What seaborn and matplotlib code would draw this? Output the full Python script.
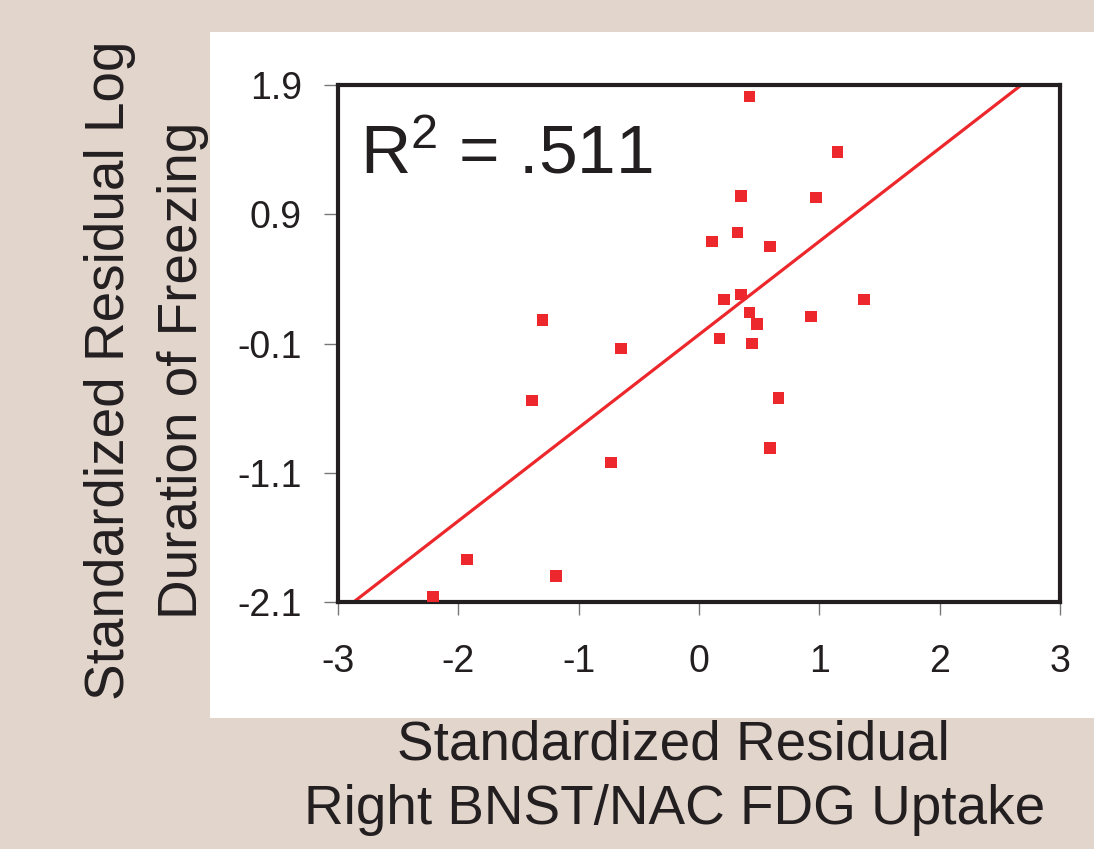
import numpy as np
import pandas as pd
import matplotlib
matplotlib.use("Agg")
import matplotlib.pyplot as plt
import seaborn as sns
from matplotlib.patches import Rectangle

# values
fdg_uptake = [0.42, 1.15, 0.35, 0.97, 0.32, 0.11, 0.59, 0.21, 0.35, 1.37, 0.42, 0.48,
              0.93, -1.30, 0.17, 0.44, -0.65, -1.39, 0.66, 0.59, -0.73, -1.93, -1.19, -2.21]
log_freezing = [1.81, 1.38, 1.04, 1.03, 0.76, 0.69, 0.65, 0.24, 0.28, 0.24, 0.14, 0.05,
                0.11, 0.08, -0.06, -0.10, -0.14, -0.54, -0.52, -0.91, -1.02, -1.77, -1.90, -2.06]
fit_slope = 0.721
fit_intercept = -0.031
r_squared = ".511"

x_ticks = [-3, -2, -1, 0, 1, 2, 3]
x_tick_labels = ["-3", "-2", "-1", "0", "1", "2", "3"]
y_ticks = [1.9, 0.9, -0.1, -1.1, -2.1]
y_tick_labels = ["1.9", "0.9", "-0.1", "-1.1", "-2.1"]

df = pd.DataFrame({"fdg": fdg_uptake, "freezing": log_freezing})

sns.set_style("ticks")
plt.rcParams["font.family"] = ["Liberation Sans", "DejaVu Sans"]
plt.rcParams["mathtext.fontset"] = "custom"
plt.rcParams["mathtext.rm"] = "Liberation Sans"
plt.rcParams["mathtext.it"] = "Liberation Sans"

red = "#ec282d"
fig = plt.figure(figsize=(10.94, 8.49), dpi=100, facecolor="#e2d5cc")

# white panel behind the plot
fig.patches.append(Rectangle((210 / 1094, 1 - 718 / 849), 1 - 210 / 1094, (718 - 32) / 849,
                             transform=fig.transFigure, facecolor="white", edgecolor="none", zorder=-5))

ax = fig.add_axes([338 / 1094, 1 - 602 / 849, (1060 - 338) / 1094, (602 - 85) / 849])
ax.set_facecolor("white")

sns.scatterplot(data=df, x="fdg", y="freezing", marker="s", s=70, color=red,
                edgecolor="none", linewidth=0, ax=ax, zorder=3)
ax.axline((0, fit_intercept), slope=fit_slope, color=red, linewidth=2.3, zorder=2)

ax.set_xlim(-3, 3)
ax.set_ylim(-2.1, 1.9)
ax.set_xticks(x_ticks)
ax.set_xticklabels(x_tick_labels)
ax.set_yticks(y_ticks)
ax.set_yticklabels(y_tick_labels)
ax.tick_params(axis="x", labelsize=27, length=9, width=1, color="#777777", pad=21, labelcolor="#231f20")
ax.tick_params(axis="y", labelsize=27, length=10, width=1, color="#777777", pad=16, labelcolor="#231f20")
for side in ["left", "right", "top", "bottom"]:
    ax.spines[side].set_visible(True)
    ax.spines[side].set_linewidth(3)
    ax.spines[side].set_color("#231f20")
ax.set_xlabel("")
ax.set_ylabel("")

ax.text(0.031, 0.925, r"R$^{\mathrm{2}}$ = " + r_squared, transform=ax.transAxes,
        fontsize=50, va="top", ha="left", color="#231f20")

label_kw = dict(fontsize=39.5, color="#231f20", ha="center", va="center")
fig.text(673 / 1094, 1 - 745 / 849, "Standardized Residual", **label_kw)
fig.text(675 / 1094, 1 - 810 / 849, "Right BNST/NAC FDG Uptake", **label_kw)
fig.text(110 / 1094, 1 - 370 / 849, "Standardized Residual Log", rotation=90, **label_kw)
fig.text(183 / 1094, 1 - 370 / 849, "Duration of Freezing", rotation=90, **label_kw)

plt.savefig("out.png", dpi=100, facecolor=fig.get_facecolor())
plt.close()
